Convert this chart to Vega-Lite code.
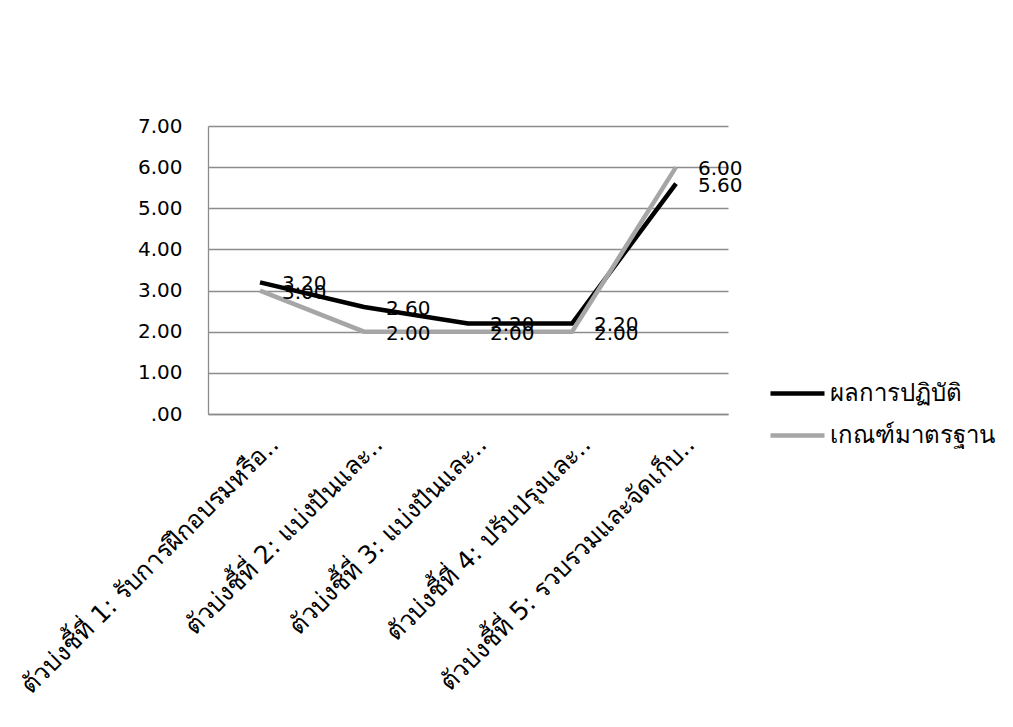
{
  "$schema": "https://vega.github.io/schema/vega-lite/v6.json",
  "autosize": {"type": "none"},
  "padding": {"left": 208, "top": 126, "right": 285, "bottom": 313},
  "width": 520,
  "height": 288,
  "background": "white",
  "config": {
    "view": {"stroke": null},
    "font": "DejaVu Sans"
  },
  "data": {
    "values": [
      {"k": "ตัวบ่งชี้ที่ 1: รับการฝึกอบรมหรือ..", "series": "ผลการปฏิบัติ", "v": 3.2},
      {"k": "ตัวบ่งชี้ที่ 2: แบ่งปันและ..", "series": "ผลการปฏิบัติ", "v": 2.6},
      {"k": "ตัวบ่งชี้ที่ 3: แบ่งปันและ..", "series": "ผลการปฏิบัติ", "v": 2.2},
      {"k": "ตัวบ่งชี้ที่ 4: ปรับปรุงและ..", "series": "ผลการปฏิบัติ", "v": 2.2},
      {"k": "ตัวบ่งชี้ที่ 5: รวบรวมและจัดเก็บ..", "series": "ผลการปฏิบัติ", "v": 5.6},
      {"k": "ตัวบ่งชี้ที่ 1: รับการฝึกอบรมหรือ..", "series": "เกณฑ์มาตรฐาน", "v": 3.0},
      {"k": "ตัวบ่งชี้ที่ 2: แบ่งปันและ..", "series": "เกณฑ์มาตรฐาน", "v": 2.0},
      {"k": "ตัวบ่งชี้ที่ 3: แบ่งปันและ..", "series": "เกณฑ์มาตรฐาน", "v": 2.0},
      {"k": "ตัวบ่งชี้ที่ 4: ปรับปรุงและ..", "series": "เกณฑ์มาตรฐาน", "v": 2.0},
      {"k": "ตัวบ่งชี้ที่ 5: รวบรวมและจัดเก็บ..", "series": "เกณฑ์มาตรฐาน", "v": 6.0}
    ]
  },
  "encoding": {
    "x": {
      "field": "k",
      "type": "nominal",
      "sort": null,
      "scale": {"paddingInner": 0, "paddingOuter": 0},
      "axis": {
        "title": null,
        "labelAngle": -45,
        "labelAlign": "right",
        "labelBaseline": "middle",
        "labelFontSize": 25,
        "labelColor": "#000000",
        "labelPadding": 26,
        "labelOffset": 14,
        "labelLimit": 600,
        "ticks": false,
        "domainColor": "#8c8c8c",
        "domainWidth": 1.3,
        "grid": false
      }
    },
    "y": {
      "field": "v",
      "type": "quantitative",
      "scale": {"domain": [0, 7], "nice": false, "zero": true},
      "axis": {
        "title": null,
        "values": [0, 1, 2, 3, 4, 5, 6, 7],
        "labelExpr": "datum.value == 0 ? '.00' : format(datum.value, '.2f')",
        "labelFontSize": 20,
        "labelColor": "#000000",
        "labelPadding": 26,
        "ticks": false,
        "domainColor": "#8c8c8c",
        "domainWidth": 1.3,
        "gridColor": "#8c8c8c",
        "gridWidth": 1.3
      }
    }
  },
  "layer": [
    {
      "mark": {"type": "line", "strokeWidth": 4.5, "strokeJoin": "miter"},
      "encoding": {
        "color": {
          "field": "series",
          "type": "nominal",
          "scale": {"domain": ["ผลการปฏิบัติ", "เกณฑ์มาตรฐาน"], "range": ["#000000", "#a6a6a6"]},
          "legend": {
            "title": null,
            "orient": "none",
            "legendX": 560,
            "legendY": 238,
            "symbolType": "stroke",
            "symbolSize": 2916,
            "symbolStrokeWidth": 4.5,
            "labelFontSize": 24,
            "labelColor": "#000000",
            "labelOffset": 3,
            "rowPadding": -1,
            "labelLimit": 300
          }
        }
      }
    },
    {
      "mark": {"type": "text", "align": "left", "baseline": "middle", "dx": 22, "dy": 2, "fontSize": 20, "color": "#000000"},
      "encoding": {
        "text": {"field": "v", "type": "quantitative", "format": ".2f"}
      }
    }
  ]
}
